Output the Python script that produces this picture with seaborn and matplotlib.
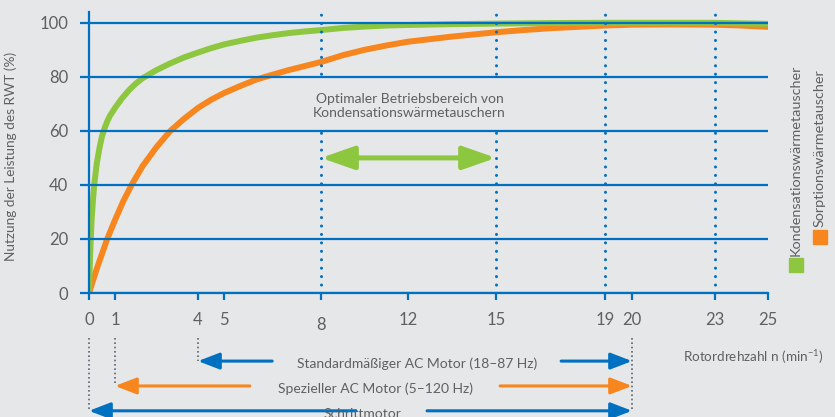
import numpy as np
import pandas as pd
import matplotlib
matplotlib.use("Agg")
import matplotlib.pyplot as plt
import seaborn as sns
from matplotlib.patches import Rectangle
from matplotlib.transforms import ScaledTranslation

# Achse: Drehzahl-Ticks und ihre (ungleichmäßigen) Positionen in der Vorlage
tick_values = [0, 1, 4, 5, 8, 12, 15, 19, 20, 23, 25]
tick_pos = [89, 115, 198, 224, 321, 408, 496, 605, 632, 715, 768]
y_ticks = [0, 20, 40, 60, 80, 100]

# Kondensationswärmetauscher
kond_rpm = [0, 0.03, 0.06, 0.1, 0.15, 0.2, 0.3, 0.4, 0.5, 0.6, 0.7, 0.8, 0.9, 1, 1.25, 1.5, 1.75,
            2, 2.5, 3, 3.5, 4, 4.5, 5, 5.5, 6, 6.5, 7, 7.5, 8, 9, 10, 11, 12, 13.5, 15, 17, 19, 21, 23, 25]
kond_val = [0, 10, 18, 27, 34, 40, 48, 53.5, 58, 61, 63.5, 65.5, 67, 68.5, 72, 75, 77.5,
            79.5, 82.5, 85, 87.2, 89, 90.6, 92, 93.3, 94.5, 95.4, 96.2, 96.8, 97.3, 98.1, 98.6, 99, 99.2, 99.5, 99.7, 99.9, 100, 100, 100, 99.6]

# Sorptionswärmetauscher
sorp_rpm = [0, 0.15, 0.3, 0.5, 0.7, 0.85, 1, 1.15, 1.3, 1.45, 1.6, 1.8, 2, 2.25, 2.5, 2.75, 3, 3.5, 4,
            4.5, 5, 5.5, 6, 6.5, 7, 7.5, 8, 9, 10, 11, 12, 13.5, 15, 16, 17, 18, 19, 20, 21.5, 23, 24, 25]
sorp_val = [0, 4.5, 9, 14.5, 20, 23.5, 27, 30.5, 34, 37, 40, 43.5, 47, 50.5, 54, 57, 60, 64.5, 68.5,
            71.5, 74, 76.6, 79, 80.8, 82.5, 84, 85.5, 88, 90, 91.6, 93, 94.9, 96.5, 97.3, 98, 98.5, 99, 99.3, 99.4, 99.3, 99, 98.5]

optimal_range = [8, 15]
marker_rpm = [8, 15, 19, 23]

BG = "#e6e7e9"
BLUE = "#0070c0"
GREEN = "#8dc63f"
ORANGE = "#f7861e"
GREY = "#5f6062"
DOTGREY = "#5b6670"

sns.set_theme(style="white")
plt.rcParams["font.family"] = ["Lato", "DejaVu Sans"]
plt.rcParams["axes.unicode_minus"] = False


def fwd(x):
    return np.interp(x, tick_values, tick_pos)


def inv(p):
    return np.interp(p, tick_pos, tick_values)


df = pd.concat([
    pd.DataFrame({"rpm": sorp_rpm, "val": sorp_val, "typ": "Sorptionswärmetauscher"}),
    pd.DataFrame({"rpm": kond_rpm, "val": kond_val, "typ": "Kondensationswärmetauscher"}),
])

fig = plt.figure(figsize=(8.35, 4.17), dpi=100, facecolor=BG)
ax = fig.add_axes([89 / 835, (417 - 293) / 417, (768 - 89) / 835, (293 - 12) / 417])
ax.set_facecolor(BG)
ax.set_xscale("function", functions=(fwd, inv))
ax.set_xlim(0, 25)
ax.set_ylim(0, 104)

sns.lineplot(data=df, x="rpm", y="val", hue="typ", estimator=None, sort=False,
             palette={"Sorptionswärmetauscher": ORANGE, "Kondensationswärmetauscher": GREEN},
             linewidth=4.3, legend=False, ax=ax, zorder=2)

# Gitter und Achsen
ax.set_axisbelow(False)
ax.yaxis.grid(True, color=BLUE, linewidth=1.6)
ax.xaxis.grid(False)
for s in ["top", "right"]:
    ax.spines[s].set_visible(False)
for s in ["left", "bottom"]:
    ax.spines[s].set_color(BLUE)
    ax.spines[s].set_linewidth(1.6)

ax.set_yticks(y_ticks)
ax.set_xticks(tick_values)
ax.set_xticklabels([str(v) for v in tick_values])
ax.tick_params(axis="y", length=6.5, width=1.6, color=BLUE, pad=8.5, labelsize=12, labelcolor=GREY, left=True)
ax.tick_params(axis="x", length=5, width=1.6, color=BLUE, pad=9, labelsize=12, labelcolor=GREY, bottom=True)
for lab in ax.get_xticklabels():
    if lab.get_text() == "8":
        lab.set_transform(lab.get_transform() + ScaledTranslation(0, -3 / 72, fig.dpi_scale_trans))

ax.set_xlabel("")
ax.set_ylabel("Nutzung der Leistung des RWT (%)", fontsize=9.8, color=GREY)
ax.yaxis.set_label_coords(-0.106, 0.4875)

# Gepunktete Markierungen
for v in marker_rpm:
    ax.axvline(v, color=BLUE, linewidth=2.2, linestyle=(0, (0.01, 2.75)),
               dash_capstyle="round", zorder=3)

# Optimaler Bereich: Textfeld verdeckt die Punktlinien zwischen 60 und 80
ax.add_patch(Rectangle((7.6, 60.7), 7.8, 18.6, facecolor=BG, edgecolor="none", zorder=3.2))
ax.annotate("", xy=(optimal_range[0], 50), xytext=(optimal_range[1], 50),
            arrowprops=dict(arrowstyle="<|-|>,head_length=2.0,head_width=0.7", mutation_scale=10,
                            color=GREEN, lw=3.6, shrinkA=0, shrinkB=0), zorder=4)
ax.text(12.05, 69.3, "Optimaler Betriebsbereich von\nKondensationswärmetauschern",
        ha="center", va="center", fontsize=10, color=GREY, linespacing=1.25, zorder=4)

# Motorbereiche unterhalb der Achse
motors = [
    ("Standardmäßiger AC Motor (18–87 Hz)", 4, 20, 6.49, 17.39, -25.2, 12.3, BLUE),
    ("Spezieller AC Motor (5–120 Hz)", 1, 20, 5.8, 15.15, -34.4, 10.5, ORANGE),
    ("Schrittmotor", 0, 20, 9.61, 12.65, -43.6, 9.9, BLUE),
]
for label, lo, hi, tail_l, tail_r, yv, tx, col in motors:
    style = dict(arrowstyle="-|>,head_length=1.3,head_width=0.5", mutation_scale=10,
                 color=col, lw=2.2, shrinkA=0, shrinkB=0)
    ax.annotate("", xy=(lo, yv), xytext=(tail_l, yv), arrowprops=style, annotation_clip=False)
    ax.annotate("", xy=(hi, yv), xytext=(tail_r, yv), arrowprops=style, annotation_clip=False)
    ax.text(tx, yv - 1.0, label, ha="center", va="center", fontsize=10, color=GREY, clip_on=False)

for v, ybot in [(0, -43.7), (1, -34.1), (4, -25.2), (20, -43.7)]:
    ax.plot([v, v], [-16.7, ybot], color=DOTGREY, linewidth=1.2, linestyle=(0, (1, 1.6)),
            clip_on=False, zorder=3)

fig.text(683 / 835, (417 - 357) / 417, "Rotordrehzahl n (min$^{\\mathregular{-1}}$)",
         ha="left", va="center", fontsize=9.7, color=GREY)

# Legende (senkrecht)
fig.patches.append(Rectangle((789 / 835, (417 - 272) / 417), 14 / 835, 14 / 417,
                             transform=fig.transFigure, color=GREEN))
fig.patches.append(Rectangle((813 / 835, (417 - 244) / 417), 14 / 835, 14 / 417,
                             transform=fig.transFigure, color=ORANGE))
fig.text(796 / 835, (417 - 256) / 417, "Kondensationswärmetauscher", rotation=90,
         ha="center", va="bottom", fontsize=10.4, color=GREY)
fig.text(820 / 835, (417 - 227) / 417, "Sorptionswärmetauscher", rotation=90,
         ha="center", va="bottom", fontsize=10.4, color=GREY)

fig.savefig("out.png", dpi=100, facecolor=BG)
